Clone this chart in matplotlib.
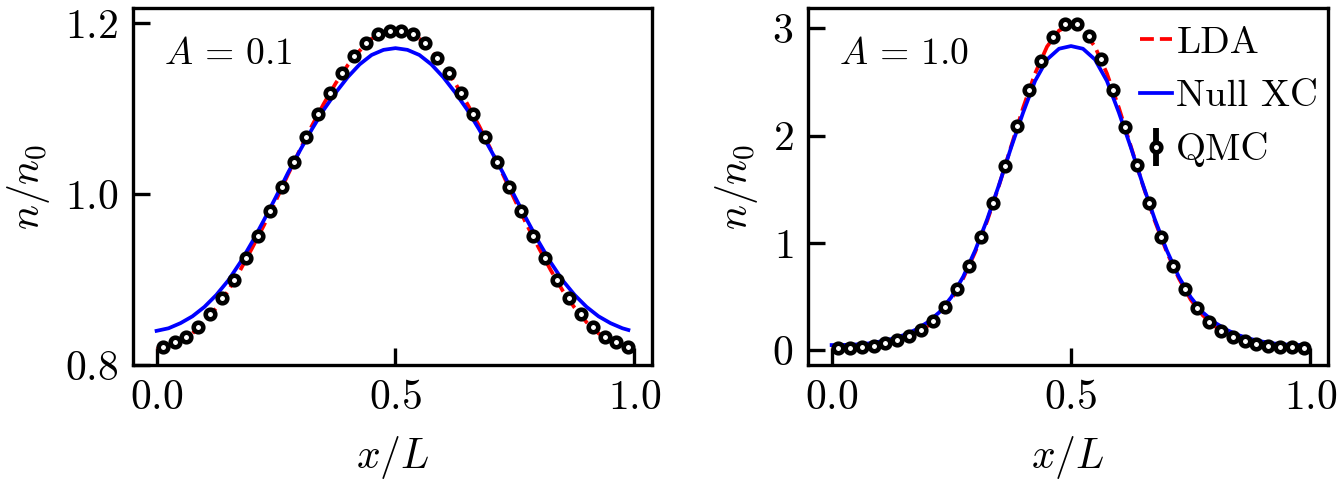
import numpy as np
import matplotlib
matplotlib.use("Agg")
import matplotlib.pyplot as plt

plt.rcParams['font.family'] = 'serif'
plt.rcParams['font.serif'] = ['cmr10']
plt.rcParams['mathtext.fontset'] = 'cm'
plt.rcParams['axes.formatter.use_mathtext'] = True
plt.rcParams['axes.unicode_minus'] = False

"""
------------------ data read off the figure ----------------------------------
"""
# QMC sample positions (x/L)
qmc_x = (np.arange(40) + 0.5) * 0.025

qmc_A01 = [0.821, 0.827, 0.833, 0.845, 0.860, 0.879, 0.900, 0.925, 0.951, 0.980,
           1.009, 1.038, 1.067, 1.094, 1.119, 1.142, 1.162, 1.177, 1.187, 1.191,
           1.191, 1.187, 1.177, 1.160, 1.142, 1.119, 1.094, 1.067, 1.038, 1.009,
           0.980, 0.951, 0.925, 0.900, 0.879, 0.860, 0.845, 0.833, 0.827, 0.821]
qmc_A10 = [0.022, 0.023, 0.031, 0.040, 0.062, 0.090, 0.130, 0.186, 0.273, 0.398,
           0.565, 0.783, 1.050, 1.368, 1.717, 2.089, 2.425, 2.698, 2.916, 3.037,
           3.037, 2.928, 2.711, 2.425, 2.083, 1.724, 1.368, 1.050, 0.783, 0.565,
           0.388, 0.264, 0.180, 0.124, 0.084, 0.056, 0.037, 0.031, 0.025, 0.022]
qmc_err = 0.0  # error bars smaller than the markers

# grid of the DFT curves
line_x = np.append(np.arange(40) * 0.025, 0.9875)

lda_A01 = [0.819, 0.822, 0.828, 0.837, 0.850, 0.867, 0.887, 0.911, 0.937, 0.964,
           0.993, 1.023, 1.052, 1.080, 1.106, 1.130, 1.151, 1.168, 1.182, 1.189,
           1.191,
           1.189, 1.182, 1.168, 1.151, 1.130, 1.106, 1.080, 1.052, 1.023, 0.993,
           0.964, 0.937, 0.911, 0.887, 0.867, 0.850, 0.837, 0.828, 0.822, 0.820]
null_A01 = [0.840, 0.843, 0.849, 0.857, 0.868, 0.882, 0.899, 0.920, 0.944, 0.970,
            0.997, 1.025, 1.051, 1.076, 1.099, 1.119, 1.137, 1.152, 1.163, 1.169,
            1.171,
            1.169, 1.163, 1.152, 1.137, 1.119, 1.099, 1.076, 1.051, 1.025, 0.997,
            0.970, 0.944, 0.920, 0.899, 0.882, 0.868, 0.857, 0.849, 0.843, 0.841]

lda_A10 = [0.020, 0.022, 0.027, 0.035, 0.048, 0.070, 0.104, 0.152, 0.222, 0.325,
           0.470, 0.670, 0.915, 1.205, 1.540, 1.900, 2.260, 2.580, 2.830, 2.980,
           3.030,
           2.980, 2.830, 2.580, 2.260, 1.900, 1.540, 1.205, 0.915, 0.670, 0.470,
           0.325, 0.222, 0.152, 0.104, 0.070, 0.048, 0.035, 0.027, 0.022, 0.021]
null_A10 = [0.046, 0.047, 0.051, 0.060, 0.078, 0.103, 0.138, 0.188, 0.257, 0.352,
            0.493, 0.685, 0.930, 1.220, 1.545, 1.890, 2.215, 2.510, 2.710, 2.810,
            2.835,
            2.810, 2.710, 2.510, 2.215, 1.890, 1.545, 1.220, 0.930, 0.685, 0.493,
            0.352, 0.257, 0.188, 0.138, 0.103, 0.078, 0.060, 0.051, 0.047, 0.046]

panels = [(r"$A\,=\,0.1$", lda_A01, null_A01, qmc_A01, (0.8, 1.218), [0.8, 1.0, 1.2]),
          (r"$A\,=\,1.0$", lda_A10, null_A10, qmc_A10, (-0.14, 3.19), [0, 1, 2, 3])]

"""
------------------ plot ----------------------------------
"""
fig = plt.figure(figsize=(1343 / 300, 483 / 300), dpi=300)
ax1 = fig.add_axes([133 / 1343, 118 / 483, 519 / 1343, 357 / 483])
ax2 = fig.add_axes([808 / 1343, 118 / 483, 520 / 1343, 357 / 483])

for ax, (label, lda, null, qmc, ylim, yticks) in zip([ax1, ax2], panels):
    ax.plot(line_x, lda, '--', color='red', lw=0.9, label='LDA')
    ax.plot(line_x, null, '-', color='#0000ff', lw=0.9, label='Null XC')
    ax.errorbar(qmc_x, qmc, yerr=qmc_err, fmt='o', ms=2.3, mfc='white', mec='black',
                mew=1.1, ecolor='black', elinewidth=1.4, capsize=0, label='QMC', zorder=3)

    ax.set_xlim(-0.0494, 1.0369)
    ax.set_ylim(*ylim)
    ax.set_xticks([0.0, 0.5, 1.0])
    ax.set_yticks(yticks)
    ax.tick_params(direction='in', length=4, width=0.8, labelsize=10, pad=3.5)
    for sp in ax.spines.values():
        sp.set_linewidth(0.8)

    ax.set_xlabel('$x/L$', fontsize=10, labelpad=4)
    ax.set_ylabel('$n/n_0$', fontsize=10, labelpad=3)
    ax.text(0.06, 0.87, label, transform=ax.transAxes, fontsize=9, va='center', ha='left')

ax2.legend(loc='upper right', bbox_to_anchor=(1.015, 1.0), frameon=False, fontsize=9.3,
           handlelength=0.85, handletextpad=0.1, labelspacing=0.5, borderaxespad=0.35,
           borderpad=0.1)

plt.savefig("out.png", dpi=300)
